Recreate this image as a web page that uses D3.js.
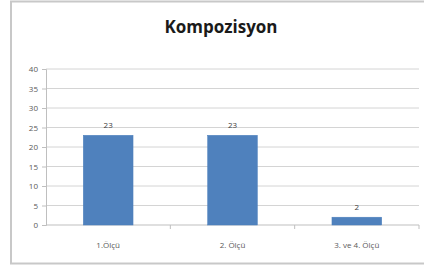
<!DOCTYPE html>
<html>
<head>
<meta charset="utf-8">
<script src="https://cdn.jsdelivr.net/npm/d3@7"></script>
<style>
  body { margin: 0; background: #fff; }
  svg { display: block; }
</style>
</head>
<body>
<div class="chart"></div>
<script>
const categories = ['1.Ölçü', '2. Ölçü', '3. ve 4. Ölçü'];
const values = [23, 23, 2];
const yTicks = [0, 5, 10, 15, 20, 25, 30, 35, 40];

const width = 424;
const height = 268;
const margin = { top: 69, right: 5, bottom: 43, left: 46 };

const svg = d3.select('.chart').append('svg')
  .attr('width', width)
  .attr('height', height)

// chart frame
svg.append('rect')
  .attr('x', 11)
  .attr('y', 1.5)
  .attr('width', 430)
  .attr('height', 262)
  .attr('fill', '#fff')
  .attr('stroke', '#c8c8c8')
  .attr('stroke-width', 2)

svg.append('text')
  .attr('x', 221)
  .attr('y', 33)
  .attr('text-anchor', 'middle')
  .style('font-family', 'Open Sans, Liberation Sans, sans-serif')
  .style('font-weight', 'bold')
  .style('font-size', '17px')
  .style('fill', '#1a1a1a')
  .text('Kompozisyon')

const x = d3.scaleBand()
  .domain(categories)
  .range([margin.left, width - margin.right])

const y = d3.scaleLinear()
  .domain([0, 40])
  .range([height - margin.bottom, margin.top])

// gridlines
svg.append('g')
  .selectAll('line')
  .data(yTicks.slice(1))
  .enter()
  .append('line')
  .attr('x1', margin.left)
  .attr('x2', width - margin.right)
  .attr('y1', d => y(d))
  .attr('y2', d => y(d))
  .attr('stroke', '#d4d4d4')
  .attr('stroke-width', 1)

const yAxis = svg.append('g')
  .attr('transform', `translate(${margin.left},0)`)
  .call(d3.axisLeft(y).tickValues(yTicks).tickSize(4).tickPadding(4))
yAxis.select('.domain').attr('stroke', '#bfbfbf')
yAxis.selectAll('.tick line').attr('stroke', '#bfbfbf')
yAxis.selectAll('text')
  .style('font-family', 'Open Sans, Liberation Sans, sans-serif')
  .style('font-size', '8px')
  .style('fill', '#595959')

// x axis with ticks at category boundaries
const xAxisG = svg.append('g')
  .attr('transform', `translate(0,${y(0)})`)
xAxisG.append('line')
  .attr('x1', margin.left)
  .attr('x2', width - margin.right)
  .attr('stroke', '#bfbfbf')
xAxisG.selectAll('.bound')
  .data(categories)
  .enter()
  .append('line')
  .attr('class', 'bound')
  .attr('x1', d => x(d) + x.bandwidth())
  .attr('x2', d => x(d) + x.bandwidth())
  .attr('y1', 0)
  .attr('y2', 4)
  .attr('stroke', '#bfbfbf')
xAxisG.selectAll('.lbl')
  .data(categories)
  .enter()
  .append('text')
  .attr('class', 'lbl')
  .attr('x', d => x(d) + x.bandwidth() / 2)
  .attr('y', 23)
  .attr('text-anchor', 'middle')
  .style('font-family', 'Open Sans, Liberation Sans, sans-serif')
  .style('font-size', '8px')
  .style('fill', '#595959')
  .text(d => d)

const barW = x.bandwidth() * 0.4;

svg.selectAll('.bar')
  .data(values)
  .enter()
  .append('rect')
  .attr('class', 'bar')
  .attr('x', (d, i) => x(categories[i]) + (x.bandwidth() - barW) / 2)
  .attr('y', d => y(d))
  .attr('width', barW)
  .attr('height', d => y(0) - y(d))
  .style('fill', '#4f81bd')
  .style('stroke', '#4a7ebb')
  .attr('stroke-width', 0.5)

svg.selectAll('.val')
  .data(values)
  .enter()
  .append('text')
  .attr('class', 'val')
  .attr('x', (d, i) => x(categories[i]) + x.bandwidth() / 2)
  .attr('y', d => y(d) - 7)
  .attr('text-anchor', 'middle')
  .style('font-family', 'Open Sans, Liberation Sans, sans-serif')
  .style('font-size', '8px')
  .style('fill', '#404040')
  .text(d => d)
</script>
</body>
</html>
